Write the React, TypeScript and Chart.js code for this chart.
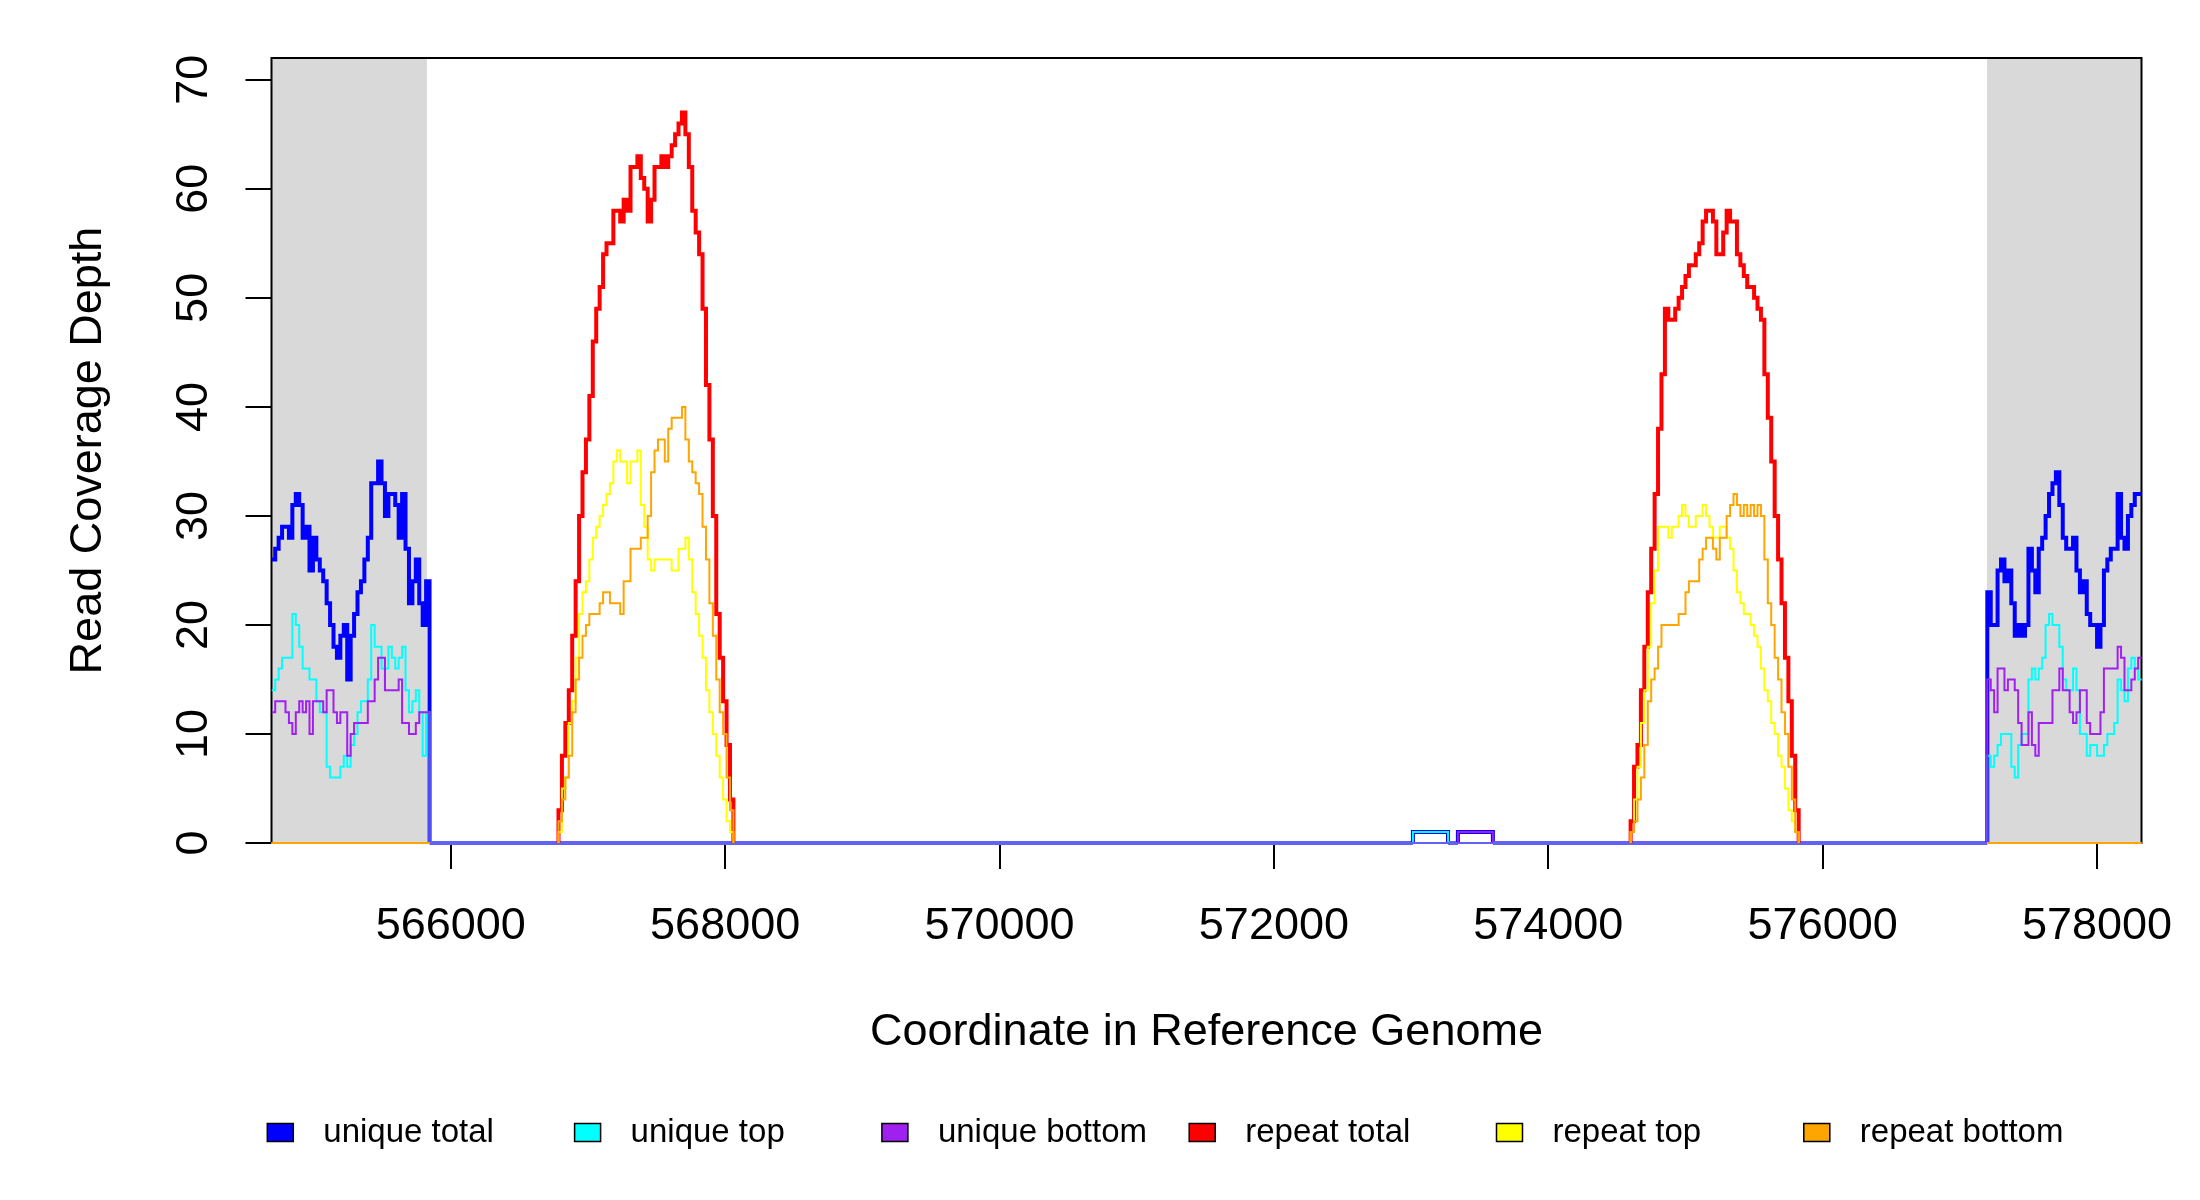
import { useEffect, useRef } from "react";
import { Chart, registerables } from "chart.js";

Chart.register(...registerables);

// genome window and axes
const BIN = 25;
const X_MIN = 564693;
const X_MAX = 578324;
const Y_MAX = 72;
const xTickValues = [566000, 568000, 570000, 572000, 574000, 576000, 578000];
const yTickValues = [0, 10, 20, 30, 40, 50, 60, 70];
const shadedRegions = [
  [564693, 565826],
  [577198, 578324],
];

const seriesLabels = ["unique total", "unique top", "unique bottom", "repeat total", "repeat top", "repeat bottom"];
const seriesColors = ["#0000ff", "#00ffff", "#a020f0", "#ff0000", "#ffff00", "#ffa500"];
const seriesWidths = [4, 2, 2, 4, 2, 2];
const ZERO_LINE = "#6262f4";

// unique coverage, left flank (25 bp bins)
const leftStart = 564695;
const uniqueTotalLeft = [26, 27, 28, 29, 29, 28, 31, 32, 31, 28, 29, 25, 28, 26, 25, 24, 22, 20, 18, 17, 19, 20, 15, 19, 21, 23, 24, 26, 28, 33, 33, 35, 33, 30, 32, 32, 31, 28, 32, 27, 22, 24, 26, 22, 20, 24];
const uniqueTopLeft = [14, 15, 16, 17, 17, 17, 21, 20, 18, 16, 16, 15, 15, 13, 12, 12, 7, 6, 6, 6, 7, 8, 7, 9, 10, 12, 13, 13, 15, 20, 18, 18, 16, 16, 18, 17, 16, 17, 18, 14, 12, 13, 14, 12, 8, 12];
const uniqueBottomLeft = [12, 13, 13, 13, 12, 11, 10, 12, 13, 12, 13, 10, 13, 13, 13, 12, 14, 14, 12, 11, 12, 12, 8, 10, 11, 11, 11, 11, 13, 13, 15, 17, 17, 14, 14, 14, 14, 15, 11, 11, 10, 10, 11, 12, 12, 12];

// unique coverage, right flank
const rightStart = 577200;
const uniqueTotalRight = [23, 20, 20, 25, 26, 24, 25, 22, 19, 20, 19, 20, 27, 25, 23, 27, 28, 30, 32, 33, 34, 31, 28, 27, 27, 28, 25, 23, 24, 21, 20, 20, 18, 20, 25, 26, 27, 27, 32, 28, 27, 30, 31, 32, 32];
const uniqueTopRight = [8, 7, 8, 9, 10, 10, 10, 7, 6, 9, 10, 10, 15, 16, 15, 16, 17, 20, 21, 20, 20, 18, 15, 14, 14, 16, 14, 10, 10, 8, 9, 9, 8, 8, 9, 10, 10, 11, 15, 14, 13, 16, 17, 16, 15];
const uniqueBottomRight = [15, 14, 12, 16, 16, 14, 15, 15, 14, 11, 9, 9, 12, 9, 8, 11, 11, 11, 11, 14, 14, 16, 14, 14, 12, 11, 12, 14, 14, 11, 10, 10, 10, 12, 16, 16, 16, 16, 18, 17, 14, 14, 15, 16, 17];

// single-read blips between the repeats: [start, end, depth]
const blipsTotal = [
  [573013, 573269, 1],
  [573341, 573596, 1],
];
const blipsTop = [[573013, 573269, 1]];
const blipsBottom = [[573341, 573596, 1]];

// repeat copy 1
const peak1Start = 566785;
const repeatTotal1 = [3, 8, 11, 14, 19, 24, 30, 34, 37, 41, 46, 49, 51, 54, 55, 55, 58, 58, 57, 59, 58, 62, 62, 63, 61, 60, 57, 59, 62, 62, 63, 62, 63, 64, 65, 66, 67, 65, 62, 58, 56, 54, 49, 42, 37, 30, 21, 17, 13, 9, 4];
const repeatTop1 = [1, 5, 6, 11, 13, 17, 21, 23, 24, 26, 28, 29, 30, 31, 32, 33, 35, 36, 35, 35, 33, 35, 35, 36, 31, 29, 26, 25, 26, 26, 26, 26, 26, 25, 25, 27, 27, 28, 26, 23, 21, 19, 17, 14, 12, 10, 8, 6, 4, 2, 1];
const repeatBottom1 = [2, 4, 6, 8, 12, 15, 17, 19, 20, 21, 21, 21, 22, 23, 23, 22, 22, 22, 21, 24, 24, 27, 27, 27, 28, 28, 30, 34, 36, 37, 37, 35, 38, 39, 39, 39, 40, 37, 35, 34, 33, 32, 29, 26, 22, 19, 15, 12, 10, 6, 3];

// repeat copy 2
const peak2Start = 574600;
const repeatTotal2 = [2, 7, 9, 14, 18, 23, 27, 32, 38, 43, 49, 48, 48, 49, 50, 51, 52, 53, 53, 54, 55, 57, 58, 58, 57, 54, 54, 56, 58, 57, 57, 54, 53, 52, 51, 51, 50, 49, 48, 43, 39, 35, 30, 26, 22, 17, 13, 8, 3];
const repeatTop2 = [1, 4, 7, 11, 14, 18, 22, 25, 29, 29, 29, 28, 29, 29, 30, 31, 30, 29, 29, 30, 30, 31, 30, 29, 28, 28, 29, 29, 28, 27, 25, 23, 22, 21, 21, 20, 19, 18, 16, 14, 13, 11, 10, 8, 7, 5, 3, 2, 1];
const repeatBottom2 = [1, 2, 4, 6, 9, 13, 15, 16, 18, 20, 20, 20, 20, 20, 21, 21, 23, 24, 24, 24, 26, 27, 28, 28, 27, 26, 28, 28, 30, 31, 32, 31, 30, 31, 30, 31, 30, 31, 30, 26, 22, 20, 17, 15, 12, 10, 7, 4, 1];

const FONT = "'Liberation Sans', Arial, sans-serif";

type Pt = { x: number; y: number | null };

const stepRun = (start: number, values: number[]): Pt[] => values.map((y, i) => ({ x: start + i * BIN, y }));

const leftEnd = leftStart + uniqueTotalLeft.length * BIN;

function uniqueSeries(left: number[], right: number[], blips: number[][]): Pt[] {
  const pts: Pt[] = [...stepRun(leftStart, left), { x: leftEnd, y: 0 }];
  blips.forEach(([a, b, v]) => {
    pts.push({ x: a, y: 0 }, { x: a, y: v }, { x: b, y: 0 });
  });
  pts.push({ x: rightStart, y: 0 }, ...stepRun(rightStart, right));
  pts.push({ x: rightStart + right.length * BIN, y: right[right.length - 1] });
  return pts;
}

function peak(start: number, values: number[]): Pt[] {
  const end = start + values.length * BIN;
  return [{ x: start, y: 0 }, ...stepRun(start, values), { x: end, y: 0 }, { x: end, y: null }];
}

// flanks: strand tracks sit at zero over the shaded unique flanks
function repeatSeries(p1: number[], p2: number[], flankZeros: boolean): Pt[] {
  const left: Pt[] = flankZeros ? [{ x: X_MIN, y: 0 }, { x: leftEnd, y: 0 }, { x: leftEnd, y: null }] : [];
  const right: Pt[] = flankZeros ? [{ x: rightStart, y: 0 }, { x: X_MAX, y: 0 }] : [];
  return [...left, ...peak(peak1Start, p1), ...peak(peak2Start, p2), ...right];
}

const seriesData: Pt[][] = [
  uniqueSeries(uniqueTotalLeft, uniqueTotalRight, blipsTotal),
  uniqueSeries(uniqueTopLeft, uniqueTopRight, blipsTop),
  uniqueSeries(uniqueBottomLeft, uniqueBottomRight, blipsBottom),
  repeatSeries(repeatTotal1, repeatTotal2, false),
  repeatSeries(repeatTop1, repeatTop2, true),
  repeatSeries(repeatBottom1, repeatBottom2, true),
];

const shadePlugin = {
  id: "shade",
  beforeDatasetsDraw(chart: any) {
    const { ctx, chartArea, scales } = chart;
    ctx.save();
    ctx.fillStyle = "#d9d9d9";
    shadedRegions.forEach(([a, b]) => {
      const x0 = scales.x.getPixelForValue(a);
      const x1 = scales.x.getPixelForValue(b);
      ctx.fillRect(x0, chartArea.top, x1 - x0, chartArea.bottom - chartArea.top);
    });
    ctx.strokeStyle = "#000";
    ctx.lineWidth = 2;
    ctx.strokeRect(chartArea.left, chartArea.top, chartArea.right - chartArea.left, chartArea.bottom - chartArea.top);
    ctx.restore();
  },
};

// R-style legend row under the axis title
const legendPlugin = {
  id: "rowLegend",
  afterDraw(chart: any) {
    const { ctx } = chart;
    ctx.save();
    ctx.font = `33px ${FONT}`;
    ctx.textBaseline = "alphabetic";
    ctx.textAlign = "left";
    chart.data.datasets.forEach((ds: any, i: number) => {
      const cx = 280.3 + i * 307.3;
      ctx.fillStyle = seriesColors[i];
      ctx.fillRect(cx - 13, 1123.5, 26, 18);
      ctx.strokeStyle = "#000";
      ctx.lineWidth = 1.5;
      ctx.strokeRect(cx - 13, 1123.5, 26, 18);
      ctx.fillStyle = "#000";
      ctx.fillText(ds.label, cx + 43, 1142.3);
    });
    ctx.restore();
  },
};

const noScalePadding = (s: any) => {
  s.paddingLeft = 0;
  s.paddingRight = 0;
  s.paddingTop = 0;
  s.paddingBottom = 0;
};

export default function App() {
  const canvasRef = useRef<HTMLCanvasElement | null>(null);

  useEffect(() => {
    const canvas = canvasRef.current;
    if (!canvas) return;

    const zeroSegment = (ctx: any) =>
      ctx.p0.parsed.y === 0 && ctx.p1.parsed.y === 0 ? ZERO_LINE : undefined;

    const datasets = seriesData.map((data, i) => ({
      label: seriesLabels[i],
      data,
      borderColor: seriesColors[i],
      backgroundColor: seriesColors[i],
      borderWidth: seriesWidths[i],
      stepped: true,
      pointRadius: 0,
      fill: false,
      spanGaps: false,
      clip: false as any,
      order: seriesLabels.length - i,
      segment: i < 3 ? { borderColor: zeroSegment } : undefined,
    }));

    const chart = new Chart(canvas, {
      type: "line",
      data: { datasets },
      options: {
        animation: false,
        responsive: true,
        maintainAspectRatio: false,
        events: [],
        layout: { padding: { left: 0, right: 58.5, top: 58, bottom: 0 } },
        plugins: { legend: { display: false }, tooltip: { enabled: false } },
        scales: {
          x: {
            type: "linear",
            min: X_MIN,
            max: X_MAX,
            afterBuildTicks: (s: any) => {
              s.ticks = xTickValues.map((value) => ({ value }));
            },
            afterFit: (s: any) => {
              s.height = 357;
              noScalePadding(s);
            },
            border: { display: false },
            grid: { drawOnChartArea: false, drawTicks: true, tickLength: 26, color: "#000", lineWidth: 2 },
            ticks: {
              autoSkip: false,
              maxRotation: 0,
              padding: 31,
              color: "#000",
              font: { family: FONT, size: 45 },
              callback: (v: any) => String(v),
            },
            title: {
              display: true,
              text: "Coordinate in Reference Genome",
              color: "#000",
              font: { family: FONT, size: 45 },
              padding: { top: 0, bottom: 140 },
            },
          },
          y: {
            type: "linear",
            min: 0,
            max: Y_MAX,
            afterBuildTicks: (s: any) => {
              s.ticks = yTickValues.map((value) => ({ value }));
            },
            afterFit: (s: any) => {
              s.width = 271.5;
              noScalePadding(s);
            },
            border: { display: false },
            grid: { drawOnChartArea: false, drawTicks: true, tickLength: 26, color: "#000", lineWidth: 2 },
            ticks: {
              autoSkip: false,
              minRotation: 90,
              maxRotation: 90,
              crossAlign: "center",
              padding: 25.5,
              color: "#000",
              font: { family: FONT, size: 45 },
              callback: (v: any) => String(v),
            },
            title: {
              display: true,
              text: "Read Coverage Depth",
              color: "#000",
              font: { family: FONT, size: 45 },
              padding: { top: 62, bottom: 0 },
            },
          },
        },
      },
      plugins: [shadePlugin, legendPlugin],
    });

    return () => chart.destroy();
  }, []);

  return (
    <div style={{ position: "absolute", left: 0, top: 0, width: 2200, height: 1200, background: "#fff" }}>
      <canvas ref={canvasRef} />
    </div>
  );
}
